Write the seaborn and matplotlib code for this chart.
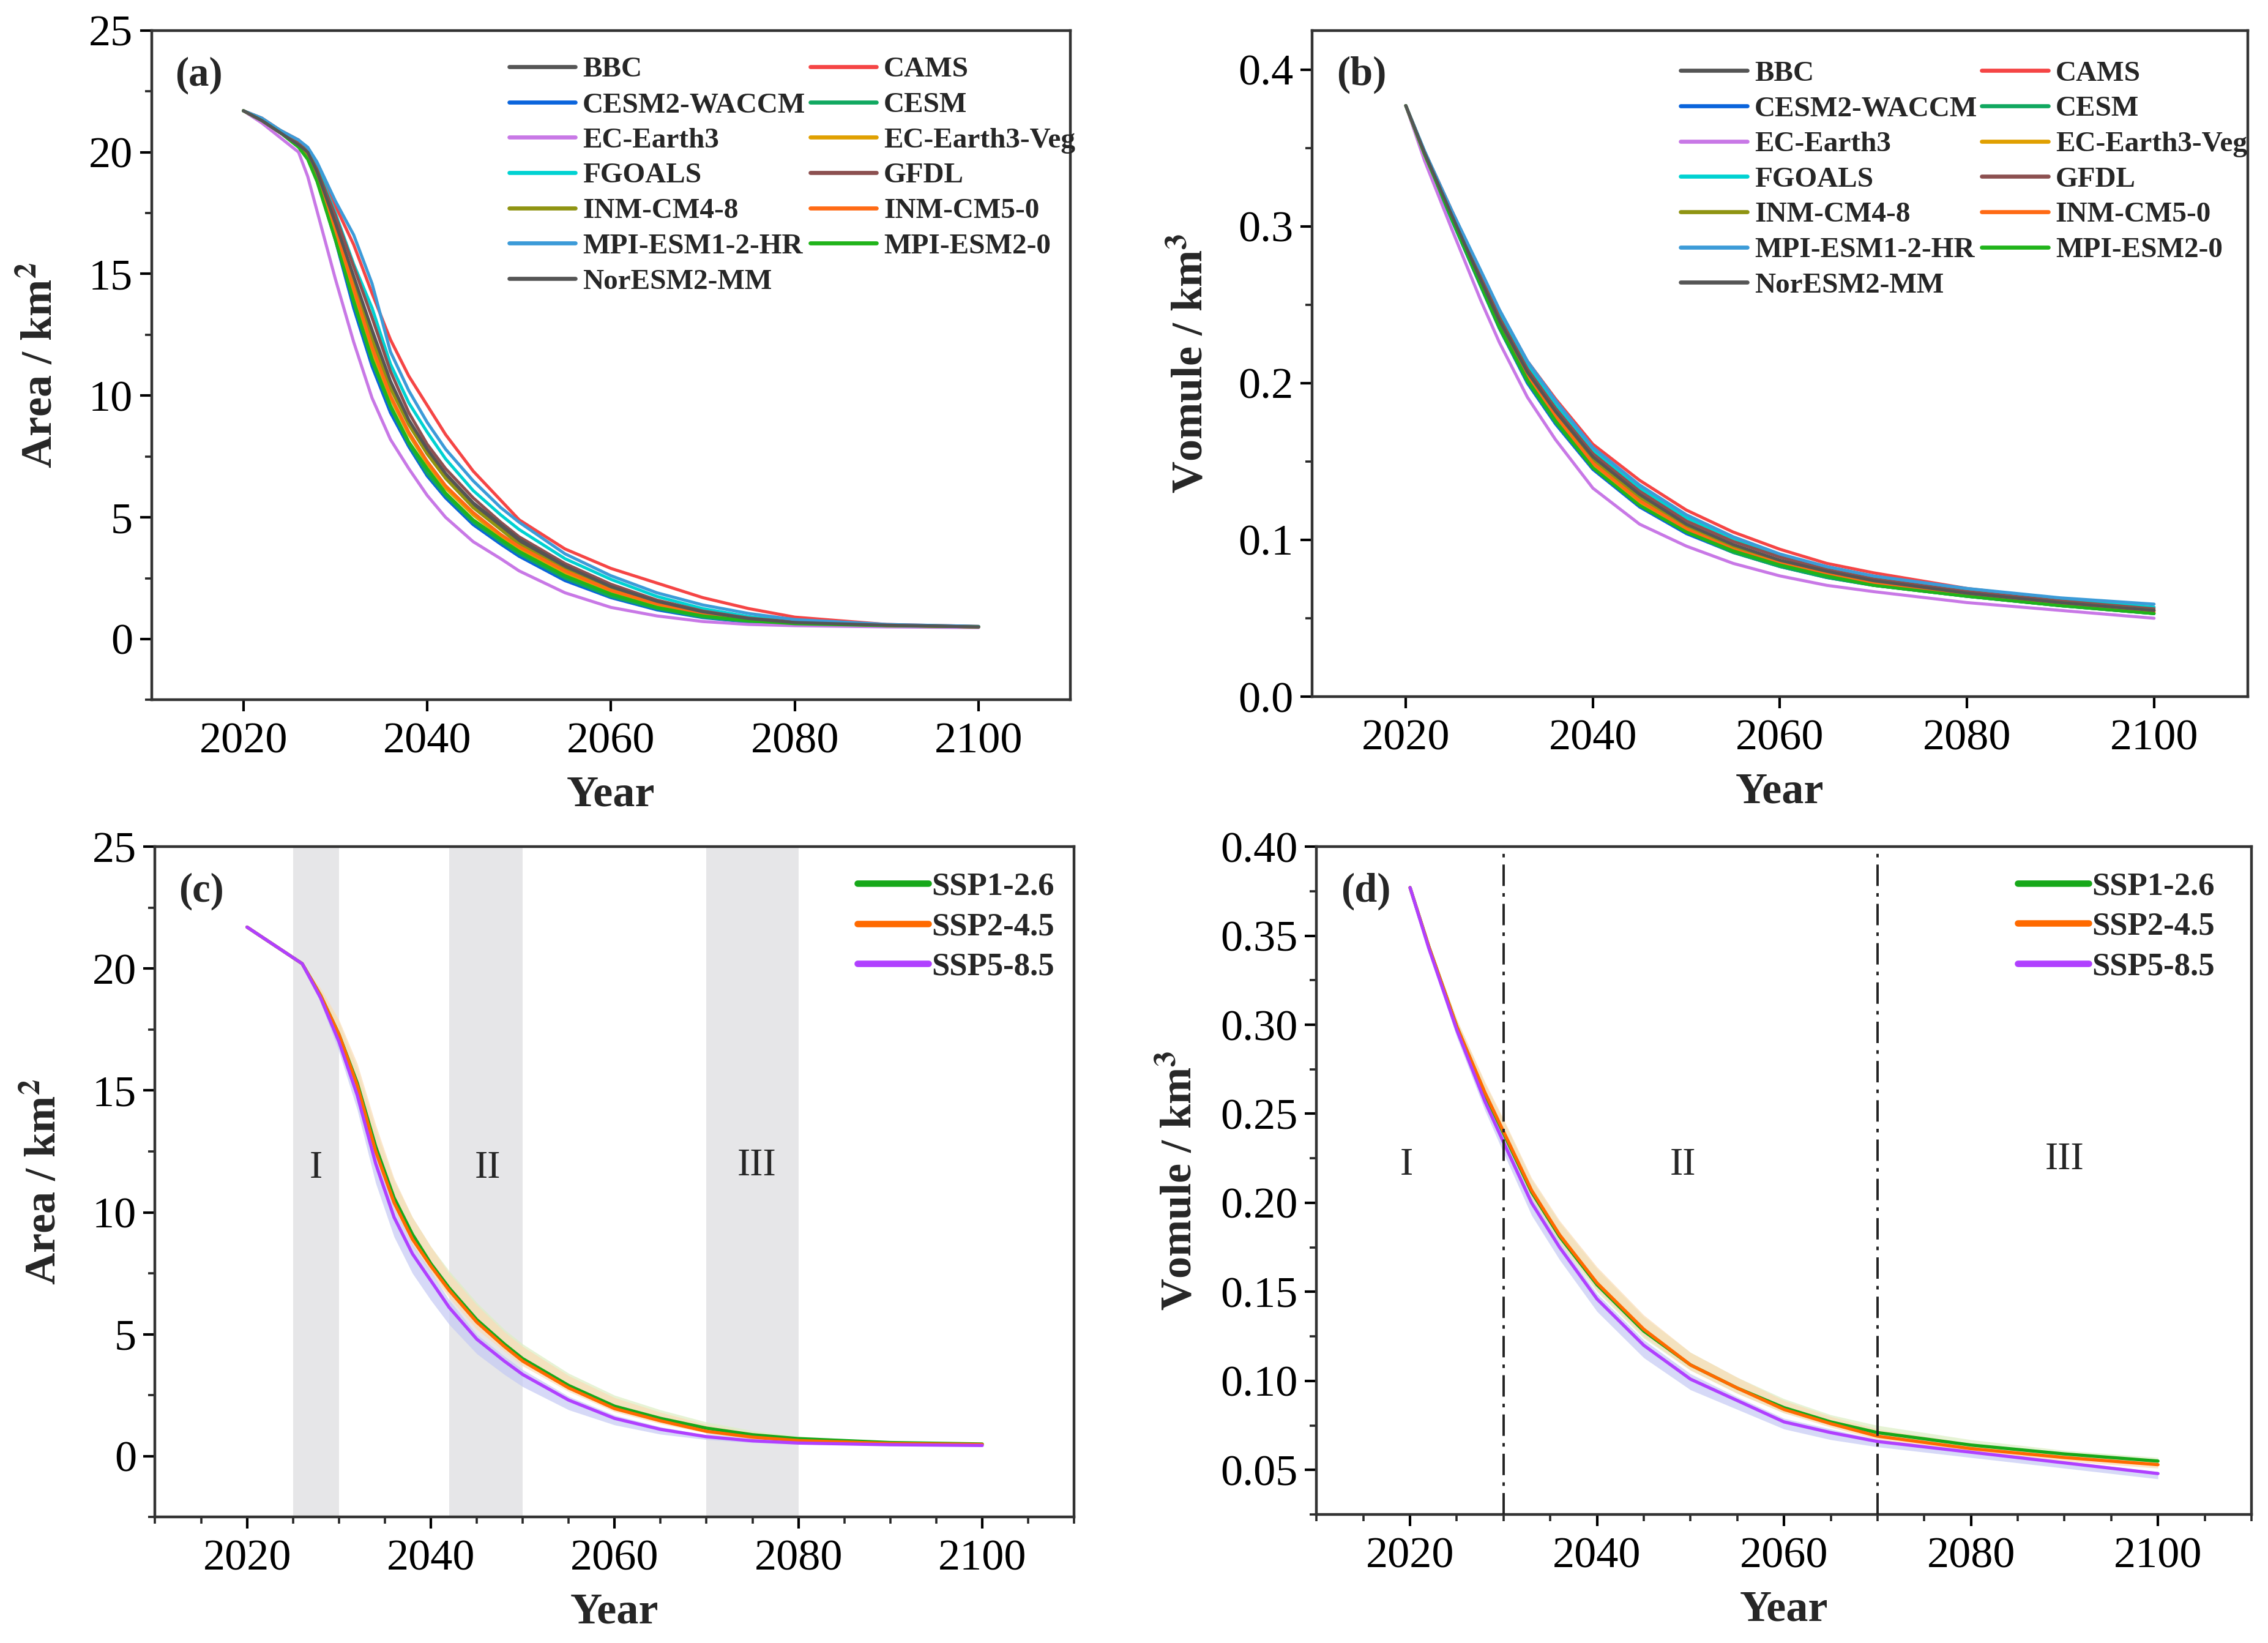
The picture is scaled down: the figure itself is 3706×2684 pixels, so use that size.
import numpy as np
import pandas as pd
import matplotlib
matplotlib.use('Agg')
import matplotlib.pyplot as plt
from matplotlib.lines import Line2D
from matplotlib.ticker import MultipleLocator
import seaborn as sns

# ---------------- data ----------------
models = ['BBC', 'CAMS', 'CESM2-WACCM', 'CESM', 'EC-Earth3', 'EC-Earth3-Veg',
          'FGOALS', 'GFDL', 'INM-CM4-8', 'INM-CM5-0', 'MPI-ESM1-2-HR',
          'MPI-ESM2-0', 'NorESM2-MM']
model_colors = ['#555555', '#f54545', '#0a64dc', '#10a860', '#c878e6', '#e0a000',
                '#00d2d2', '#8c5050', '#8f9412', '#ff6a14', '#3c9bd8',
                '#20b41a', '#555555']

area_years = [2020, 2022, 2024, 2026, 2027, 2028, 2030, 2032, 2034, 2036, 2038, 2040,
              2042, 2045, 2048, 2050, 2055, 2060, 2065, 2070, 2075, 2080, 2090, 2100]
area_bbc = [21.7, 21.3, 20.8, 20.3, 19.9, 19.1, 17.0, 14.7, 12.5, 10.4, 8.9, 7.7,
            6.7, 5.5, 4.6, 4.0, 2.9, 2.1, 1.5, 1.1, 0.82, 0.67, 0.56, 0.50]
area_cams = [21.7, 21.4, 20.9, 20.5, 20.1, 19.5, 17.8, 16.2, 14.2, 12.3, 10.8, 9.6,
             8.4, 6.9, 5.7, 4.9, 3.7, 2.9, 2.3, 1.7, 1.25, 0.9, 0.6, 0.52]
area_cesm2w = [21.7, 21.3, 20.8, 20.3, 19.8, 18.9, 16.4, 13.6, 11.2, 9.3, 7.9, 6.7,
               5.8, 4.7, 3.9, 3.4, 2.4, 1.7, 1.2, 0.88, 0.70, 0.60, 0.53, 0.49]
area_cesm = [21.7, 21.3, 20.8, 20.3, 19.8, 18.9, 16.5, 13.8, 11.4, 9.5, 8.0, 6.8,
             5.9, 4.8, 4.0, 3.5, 2.5, 1.75, 1.25, 0.9, 0.72, 0.62, 0.54, 0.49]
area_ece3 = [21.7, 21.2, 20.6, 20.0, 19.0, 17.6, 14.8, 12.2, 9.9, 8.2, 7.0, 5.9,
             5.0, 4.0, 3.3, 2.8, 1.9, 1.3, 0.95, 0.72, 0.6, 0.55, 0.50, 0.47]
area_ece3v = [21.7, 21.3, 20.8, 20.3, 19.9, 19.0, 16.8, 14.2, 11.8, 9.9, 8.4, 7.2,
              6.2, 5.1, 4.2, 3.7, 2.7, 1.95, 1.4, 1.0, 0.78, 0.65, 0.56, 0.50]
area_fgoals = [21.7, 21.3, 20.9, 20.4, 20.1, 19.4, 17.5, 15.4, 13.6, 11.3, 9.7, 8.5,
               7.4, 6.1, 5.1, 4.5, 3.3, 2.45, 1.75, 1.25, 0.92, 0.73, 0.58, 0.51]
area_gfdl = [21.7, 21.3, 20.8, 20.4, 20.0, 19.3, 17.4, 15.3, 13.2, 11.0, 9.3, 8.0,
             7.0, 5.8, 4.8, 4.2, 3.1, 2.25, 1.6, 1.15, 0.86, 0.7, 0.57, 0.51]
area_inm48 = [21.7, 21.3, 20.8, 20.3, 19.9, 19.1, 17.0, 14.6, 12.3, 10.3, 8.8, 7.6,
              6.6, 5.4, 4.5, 3.9, 2.85, 2.05, 1.5, 1.1, 0.82, 0.67, 0.56, 0.50]
area_inm50 = [21.7, 21.3, 20.8, 20.3, 20.0, 19.2, 16.9, 14.4, 12.0, 10.0, 8.5, 7.3,
              6.3, 5.2, 4.3, 3.8, 2.8, 2.0, 1.45, 1.05, 0.8, 0.66, 0.56, 0.50]
area_mpihr = [21.7, 21.4, 20.9, 20.5, 20.2, 19.6, 18.0, 16.6, 14.6, 11.8, 10.2, 8.9,
              7.8, 6.5, 5.4, 4.8, 3.5, 2.6, 1.9, 1.4, 1.05, 0.8, 0.6, 0.52]
area_mpi20 = [21.7, 21.3, 20.8, 20.2, 19.7, 18.8, 16.4, 13.9, 11.5, 9.6, 8.1, 7.0,
              6.0, 4.9, 4.1, 3.6, 2.6, 1.85, 1.3, 0.95, 0.75, 0.63, 0.55, 0.50]
area_noresm = [21.7, 21.3, 20.8, 20.3, 20.0, 19.2, 17.1, 14.9, 12.7, 10.6, 9.0, 7.8,
               6.8, 5.6, 4.7, 4.1, 3.0, 2.15, 1.55, 1.12, 0.84, 0.68, 0.57, 0.50]

vol_years = [2020, 2022, 2025, 2028, 2030, 2033, 2036, 2040, 2045, 2050, 2055, 2060,
             2065, 2070, 2080, 2090, 2100]
vol_bbc = [.377, .347, .306, .266, .240, .206, .181, .152, .128, .109, .096, .086, .079, .073, .065, .060, .055]
vol_cams = [.377, .348, .309, .271, .246, .214, .190, .161, .138, .119, .105, .094, .085, .079, .069, .062, .057]
vol_cesm2w = [.377, .345, .303, .262, .235, .200, .174, .145, .121, .104, .092, .083, .076, .071, .064, .058, .053]
vol_cesm = [.377, .345, .303, .262, .235, .201, .175, .146, .122, .105, .092, .083, .076, .071, .064, .058, .053]
vol_ece3 = [.377, .342, .297, .253, .226, .191, .164, .133, .110, .096, .085, .077, .071, .067, .060, .055, .050]
vol_ece3v = [.377, .346, .305, .265, .238, .204, .178, .148, .124, .107, .094, .085, .078, .072, .065, .059, .054]
vol_fgoals = [.377, .348, .308, .270, .244, .211, .186, .157, .133, .114, .101, .090, .082, .076, .068, .062, .057]
vol_gfdl = [.377, .347, .307, .268, .242, .209, .184, .155, .131, .112, .099, .089, .081, .075, .067, .061, .056]
vol_inm48 = [.377, .346, .305, .265, .239, .205, .180, .151, .127, .109, .096, .086, .079, .073, .065, .060, .055]
vol_inm50 = [.377, .347, .306, .266, .240, .205, .179, .149, .125, .107, .094, .085, .078, .072, .065, .059, .054]
vol_mpihr = [.377, .348, .309, .272, .247, .214, .189, .159, .135, .116, .102, .091, .083, .077, .069, .063, .059]
vol_mpi20 = [.377, .346, .304, .263, .236, .202, .176, .146, .122, .105, .093, .084, .077, .071, .064, .058, .053]
vol_noresm = [.377, .347, .306, .266, .240, .207, .182, .153, .129, .110, .097, .087, .080, .074, .066, .060, .055]

area_models = [area_bbc, area_cams, area_cesm2w, area_cesm, area_ece3, area_ece3v,
               area_fgoals, area_gfdl, area_inm48, area_inm50, area_mpihr,
               area_mpi20, area_noresm]
vol_models = [vol_bbc, vol_cams, vol_cesm2w, vol_cesm, vol_ece3, vol_ece3v,
              vol_fgoals, vol_gfdl, vol_inm48, vol_inm50, vol_mpihr,
              vol_mpi20, vol_noresm]

scenarios = ['SSP1-2.6', 'SSP2-4.5', 'SSP5-8.5']
scen_colors = ['#17a81a', '#ff6a00', '#b040ff']
band_colors = ['#dcefc4', '#fbdcb6', '#c5caf4']

sc_years = [2020, 2022, 2024, 2026, 2028, 2030, 2032, 2034, 2036, 2038, 2040, 2042,
            2045, 2048, 2050, 2055, 2060, 2065, 2070, 2075, 2080, 2090, 2100]
area_126 = [21.7, 21.2, 20.7, 20.2, 18.9, 17.3, 15.3, 12.7, 10.6, 9.1, 7.9, 6.9,
            5.6, 4.6, 4.0, 2.9, 2.05, 1.55, 1.15, 0.88, 0.72, 0.56, 0.50]
area_245 = [21.7, 21.2, 20.7, 20.2, 18.9, 17.3, 15.2, 12.5, 10.4, 8.9, 7.8, 6.8,
            5.5, 4.5, 3.9, 2.8, 1.95, 1.45, 1.02, 0.78, 0.64, 0.52, 0.48]
area_585 = [21.7, 21.2, 20.7, 20.2, 18.8, 17.0, 14.8, 12.0, 9.8, 8.3, 7.2, 6.1,
            4.8, 3.9, 3.35, 2.3, 1.55, 1.1, 0.80, 0.63, 0.54, 0.47, 0.44]
area_126_lo = [21.7, 21.2, 20.7, 20.2, 18.8, 17.1, 15.0, 12.4, 10.3, 8.8, 7.6, 6.6,
               5.4, 4.4, 3.8, 2.75, 1.92, 1.42, 1.05, 0.8, 0.66, 0.53, 0.48]
area_126_hi = [21.7, 21.2, 20.7, 20.2, 19.1, 17.8, 15.9, 13.4, 11.3, 9.8, 8.6, 7.6,
               6.3, 5.2, 4.6, 3.4, 2.5, 1.9, 1.4, 1.05, 0.82, 0.6, 0.52]
area_245_lo = [21.7, 21.2, 20.7, 20.2, 18.8, 17.0, 14.9, 12.2, 10.1, 8.6, 7.5, 6.5,
               5.2, 4.3, 3.7, 2.65, 1.82, 1.33, 0.95, 0.72, 0.6, 0.5, 0.46]
area_245_hi = [21.7, 21.2, 20.7, 20.2, 19.2, 17.9, 16.1, 13.6, 11.4, 9.8, 8.6, 7.5,
               6.2, 5.1, 4.5, 3.3, 2.4, 1.8, 1.3, 0.98, 0.78, 0.58, 0.51]
area_585_lo = [21.7, 21.2, 20.7, 20.2, 18.6, 16.6, 14.2, 11.2, 9.0, 7.5, 6.4, 5.4,
               4.2, 3.35, 2.85, 1.9, 1.28, 0.9, 0.68, 0.55, 0.49, 0.44, 0.42]
area_585_hi = [21.7, 21.2, 20.7, 20.2, 18.9, 17.2, 15.1, 12.4, 10.2, 8.7, 7.6, 6.4,
               5.0, 4.1, 3.55, 2.45, 1.68, 1.2, 0.86, 0.67, 0.57, 0.49, 0.45]

vol_126 = [.377, .344, .299, .261, .239, .206, .181, .154, .128, .109, .096, .085, .077, .071, .064, .059, .055]
vol_245 = [.377, .344, .299, .262, .240, .207, .182, .155, .129, .109, .096, .084, .076, .069, .062, .057, .053]
vol_585 = [.377, .343, .297, .257, .234, .200, .175, .146, .120, .101, .089, .077, .071, .066, .060, .054, .048]
vol_126_lo = [.377, .343, .297, .258, .235, .202, .177, .150, .124, .106, .093, .082, .075, .069, .062, .057, .053]
vol_126_hi = [.377, .346, .303, .267, .246, .213, .189, .163, .136, .116, .102, .090, .081, .075, .067, .061, .057]
vol_245_lo = [.377, .343, .297, .258, .236, .203, .178, .151, .125, .106, .093, .082, .074, .067, .060, .055, .051]
vol_245_hi = [.377, .346, .303, .268, .247, .214, .190, .164, .137, .116, .102, .089, .080, .073, .065, .059, .055]
vol_585_lo = [.377, .341, .293, .252, .228, .193, .168, .139, .113, .095, .084, .073, .067, .063, .057, .051, .045]
vol_585_hi = [.377, .344, .299, .259, .237, .203, .178, .149, .123, .104, .091, .079, .073, .067, .061, .055, .049]

area_scen = [area_126, area_245, area_585]
area_lo = [area_126_lo, area_245_lo, area_585_lo]
area_hi = [area_126_hi, area_245_hi, area_585_hi]
vol_scen = [vol_126, vol_245, vol_585]
vol_lo = [vol_126_lo, vol_245_lo, vol_585_lo]
vol_hi = [vol_126_hi, vol_245_hi, vol_585_hi]

# ---------------- long-form tables ----------------
df_area = pd.concat([pd.DataFrame({'Year': area_years, 'value': v, 'model': m})
                     for m, v in zip(models, area_models)])
df_vol = pd.concat([pd.DataFrame({'Year': vol_years, 'value': v, 'model': m})
                    for m, v in zip(models, vol_models)])
df_sa = pd.concat([pd.DataFrame({'Year': sc_years, 'value': v, 'scen': s})
                   for s, v in zip(scenarios, area_scen)])
df_sv = pd.concat([pd.DataFrame({'Year': vol_years, 'value': v, 'scen': s})
                   for s, v in zip(scenarios, vol_scen)])

pal_models = dict(zip(models, model_colors))
pal_scen = dict(zip(scenarios, scen_colors))

# ---------------- style ----------------
sns.set_style('ticks')
plt.rcParams['font.family'] = ['Liberation Serif', 'DejaVu Serif']
plt.rcParams['mathtext.fontset'] = 'stix'
TICK = 26
LAB = 26
SPC = '#333333'

fig = plt.figure(figsize=(18.53, 13.42), dpi=200)
ax_a = fig.add_axes([0.0668, 0.574, 0.4052, 0.4075])
ax_b = fig.add_axes([0.5786, 0.576, 0.4124, 0.4055])
ax_c = fig.add_axes([0.0684, 0.0766, 0.4052, 0.4081])
ax_d = fig.add_axes([0.5805, 0.0782, 0.4122, 0.4065])


def style_axes(ax, xminor):
    for sp in ax.spines.values():
        sp.set_linewidth(1.6)
        sp.set_color(SPC)
    ax.set_xlim(2010, 2110)
    ax.set_xticks([2020, 2040, 2060, 2080, 2100])
    if xminor:
        ax.xaxis.set_minor_locator(MultipleLocator(5))
    ax.tick_params(axis='both', which='major', direction='out', length=7, width=1.5,
                   labelsize=TICK, pad=4, colors='black')
    ax.tick_params(axis='x', which='major', pad=6)
    ax.tick_params(axis='both', which='minor', direction='out', length=4, width=1.3)
    ax.set_xlabel('Year', fontsize=LAB, fontweight='bold', labelpad=8)


# ---------------- (a) area by model ----------------
sns.lineplot(data=df_area, x='Year', y='value', hue='model', palette=pal_models,
             linewidth=1.8, legend=False, ax=ax_a)
style_axes(ax_a, False)
ax_a.set_ylim(-2.5, 25)
ax_a.set_yticks([0, 5, 10, 15, 20, 25])
ax_a.yaxis.set_minor_locator(MultipleLocator(2.5))
ax_a.set_ylabel('Area / km$^\\mathbf{2}$', fontsize=LAB, fontweight='bold', labelpad=16)

# ---------------- (b) volume by model ----------------
sns.lineplot(data=df_vol, x='Year', y='value', hue='model', palette=pal_models,
             linewidth=1.8, legend=False, ax=ax_b)
style_axes(ax_b, False)
ax_b.set_ylim(0, 0.425)
ax_b.set_yticks([0.0, 0.1, 0.2, 0.3, 0.4])
ax_b.set_yticklabels(['0.0', '0.1', '0.2', '0.3', '0.4'])
ax_b.yaxis.set_minor_locator(MultipleLocator(0.05))
ax_b.set_ylabel('Vomule / km$^\\mathbf{3}$', fontsize=LAB, fontweight='bold', labelpad=16)

# model legends, two columns filled row-wise like the original
col1 = ['BBC', 'CESM2-WACCM', 'EC-Earth3', 'FGOALS', 'INM-CM4-8', 'MPI-ESM1-2-HR', 'NorESM2-MM']
col2 = ['CAMS', 'CESM', 'EC-Earth3-Veg', 'GFDL', 'INM-CM5-0', 'MPI-ESM2-0']
for ax, anchor in [(ax_a, (0.389, 0.961)), (ax_b, (0.394, 0.955))]:
    names = col1 + col2
    handles = [Line2D([0], [0], color=pal_models[n], lw=2.4) for n in names]
    ax.legend(handles, names, loc='upper left', bbox_to_anchor=anchor, ncol=2,
              frameon=False, borderaxespad=0, borderpad=0, handlelength=2.3,
              handletextpad=0.25, columnspacing=0.15, labelspacing=0.31,
              prop={'weight': 'bold', 'size': 17})

# ---------------- (c) area by scenario ----------------
for x0, x1 in [(2025, 2030), (2042, 2050), (2070, 2080)]:
    ax_c.axvspan(x0, x1, color='#e6e6e8', lw=0, zorder=0)
for lo, hi, bc in zip(area_lo, area_hi, band_colors):
    ax_c.fill_between(sc_years, lo, hi, color=bc, alpha=0.7, lw=0, zorder=1)
sns.lineplot(data=df_sa, x='Year', y='value', hue='scen', palette=pal_scen,
             linewidth=1.9, legend=False, ax=ax_c, zorder=3)
style_axes(ax_c, True)
ax_c.set_ylim(-2.5, 25)
ax_c.set_yticks([0, 5, 10, 15, 20, 25])
ax_c.yaxis.set_minor_locator(MultipleLocator(2.5))
ax_c.set_ylabel('Area / km$^\\mathbf{2}$', fontsize=LAB, fontweight='bold', labelpad=16)
for xx, yy, t in [(2027.5, 11.8, 'I'), (2046.2, 11.8, 'II'), (2075.5, 11.9, 'III')]:
    ax_c.text(xx, yy, t, ha='center', va='center', fontsize=23)

# ---------------- (d) volume by scenario ----------------
for lo, hi, bc in zip(vol_lo, vol_hi, band_colors):
    ax_d.fill_between(vol_years, lo, hi, color=bc, alpha=0.7, lw=0, zorder=1)
sns.lineplot(data=df_sv, x='Year', y='value', hue='scen', palette=pal_scen,
             linewidth=1.9, legend=False, ax=ax_d, zorder=3)
for xv in [2030, 2070]:
    ax_d.axvline(xv, color='#222222', lw=1.4, ls=(0, (9, 3, 1.5, 3)), zorder=4)
style_axes(ax_d, True)
ax_d.set_ylim(0.025, 0.40)
ax_d.set_yticks([0.05, 0.10, 0.15, 0.20, 0.25, 0.30, 0.35, 0.40])
ax_d.set_yticklabels(['0.05', '0.10', '0.15', '0.20', '0.25', '0.30', '0.35', '0.40'])
ax_d.yaxis.set_minor_locator(MultipleLocator(0.025))
ax_d.set_ylabel('Vomule / km$^\\mathbf{3}$', fontsize=LAB, fontweight='bold', labelpad=12)
for xx, yy, t in [(2019.6, 0.221, 'I'), (2049.2, 0.221, 'II'), (2090.0, 0.224, 'III')]:
    ax_d.text(xx, yy, t, ha='center', va='center', fontsize=23)

for ax, anchor in [(ax_c, (0.764, 0.962)), (ax_d, (0.75, 0.962))]:
    handles = [Line2D([0], [0], color=c, lw=3.8) for c in scen_colors]
    ax.legend(handles, scenarios, loc='upper left', bbox_to_anchor=anchor,
              frameon=False, borderaxespad=0, borderpad=0, handlelength=2.2,
              handletextpad=0.1, labelspacing=0.33,
              prop={'weight': 'bold', 'size': 19})

# panel letters
for ax, lab in [(ax_a, '(a)'), (ax_b, '(b)'), (ax_c, '(c)'), (ax_d, '(d)')]:
    ax.text(0.026, 0.933, lab, transform=ax.transAxes, fontsize=24,
            fontweight='bold', va='center', ha='left')

fig.savefig('out.png', dpi=200)
